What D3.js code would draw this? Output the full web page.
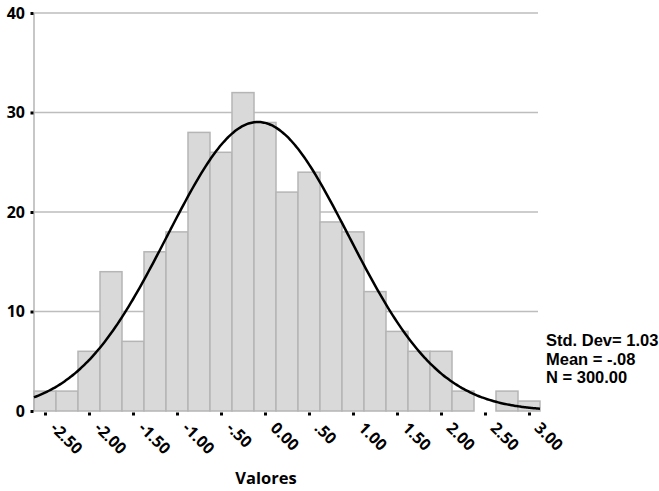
<!DOCTYPE html>
<html>
<head>
<meta charset="utf-8">
<script src="https://cdn.jsdelivr.net/npm/d3@7"></script>
<style>
  body { margin: 0; background: #fff; }
  text { font-family: "Open Sans", sans-serif; font-weight: bold; fill: #000; }
  text.stat { font-family: "Liberation Sans", Arial, sans-serif; }
</style>
</head>
<body>
<div class="chart"></div>
<script>
// bin centres (width .25) and counts
var binCenters = [-2.5,-2.25,-2,-1.75,-1.5,-1.25,-1,-0.75,-0.5,-0.25,0,0.25,0.5,0.75,1,1.25,1.5,1.75,2,2.25,2.5,2.75,3];
var counts = [2,2,6,14,7,16,18,28,26,32,29,22,24,19,18,12,8,6,6,2,0,2,1];
var xTickValues = [-2.5,-2,-1.5,-1,-0.5,0,0.5,1,1.5,2,2.5,3];
var xTickLabels = ["-2.50","-2.00","-1.50","-1.00","-.50","0.00",".50","1.00","1.50","2.00","2.50","3.00"];
var yTickValues = [0,10,20,30,40];
var statsLines = ["Std. Dev= 1.03","Mean = -.08","N = 300.00"];
var mean = -0.08, sd = 1.03, n = 300, binWidth = 0.25;

function drawChart(){
    var w = 659;
    var h = 491;
    var svg = d3.select(".chart").append("svg")
                .attr("width", w)
                .attr("height", h);

    var x = d3.scaleLinear().domain([-2.625, 3.125]).range([34, 540]);
    var y = d3.scaleLinear().domain([0, 40]).range([411, 13]);

    // gridlines
    svg.selectAll(".grid")
        .data(yTickValues.filter(d => d > 0))
        .enter().append("line")
        .attr("x1", x(-2.625)).attr("x2", 538)
        .attr("y1", d => y(d)).attr("y2", d => y(d))
        .style("stroke", "#bdbdbd").style("stroke-width", 1.5);

    // bars
    svg.selectAll(".bar")
        .data(binCenters)
        .enter().append("rect")
        .filter((d, i) => counts[i] > 0)
        .attr("x", d => x(d - binWidth / 2))
        .attr("width", d => x(d + binWidth / 2) - x(d - binWidth / 2))
        .attr("y", d => y(counts[binCenters.indexOf(d)]))
        .attr("height", d => y(0) - y(counts[binCenters.indexOf(d)]))
        .style("fill", "#d9d9d9")
        .style("stroke", "#b5b5b5")
        .style("stroke-width", 1.5);

    // y axis line
    svg.append("line")
        .attr("x1", 34).attr("x2", 34)
        .attr("y1", y(40)).attr("y2", y(0))
        .style("stroke", "#b5b5b5").style("stroke-width", 1.5);

    // y axis
    var yAxis = svg.append("g")
        .attr("transform", "translate(34,0)")
        .call(d3.axisLeft(y).tickValues(yTickValues).tickSize(0).tickPadding(9));
    yAxis.select(".domain").remove();
    yAxis.selectAll(".tick text").style("font-size", "16px").attr("font-family", null);
    yAxis.selectAll(".tick").append("rect")
        .attr("x", -3.5).attr("y", -1.5).attr("width", 3).attr("height", 3)
        .style("fill", "#000");

    // x axis
    var xAxis = svg.append("g")
        .attr("transform", "translate(0," + y(0) + ")")
        .call(d3.axisBottom(x).tickValues(xTickValues).tickSize(0)
              .tickFormat((d, i) => xTickLabels[i]));
    xAxis.select(".domain").remove();
    xAxis.selectAll(".tick").append("rect")
        .attr("x", -1.5).attr("y", 1.5).attr("width", 3).attr("height", 3)
        .style("fill", "#000");
    xAxis.selectAll(".tick text")
        .attr("font-family", null)
        .style("font-size", "16px")
        .attr("text-anchor", "start")
        .attr("y", 0).attr("dy", null)
        .attr("transform", "translate(4,18) rotate(45)");

    // normal curve
    var peak = n * binWidth / (sd * Math.sqrt(2 * Math.PI));
    var curveX = d3.range(-2.625, 3.1251, 0.025);
    var line = d3.line()
        .x(d => x(d))
        .y(d => y(peak * Math.exp(-0.5 * Math.pow((d - mean) / sd, 2))))
        .curve(d3.curveBasis);
    svg.append("path")
        .datum(curveX)
        .attr("d", line)
        .style("fill", "none")
        .style("stroke", "#000")
        .style("stroke-width", 2.5);

    // axis title
    svg.append("text")
        .attr("x", 266).attr("y", 484)
        .attr("text-anchor", "middle")
        .style("font-size", "16.5px")
        .text("Valores");

    // stats
    svg.selectAll(".stat")
        .data(statsLines)
        .enter().append("text")
        .attr("class", "stat")
        .attr("x", 546)
        .attr("y", (d, i) => 346 + i * 18.7)
        .style("font-size", "16.5px")
        .text(d => d);
}
drawChart();
</script>
</body>
</html>
